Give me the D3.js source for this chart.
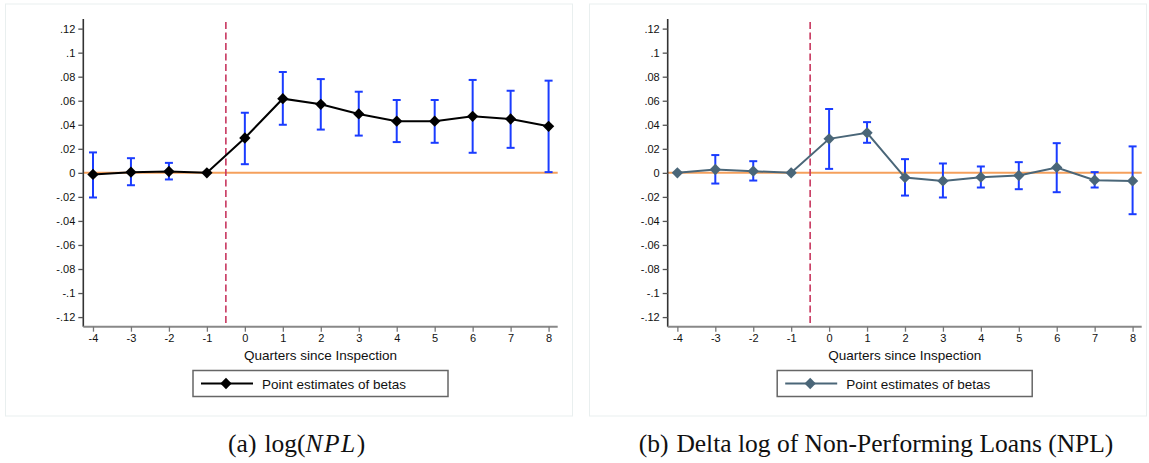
<!DOCTYPE html>
<html>
<head>
<meta charset="utf-8">
<script src="https://cdn.jsdelivr.net/npm/d3@7"></script>
<style>
  body { margin: 0; background: #fff; }
  svg { display: block; }
</style>
</head>
<body>
<svg id="chart" width="1149" height="463"></svg>
<script>
// quarters relative to the inspection
const quarters = [-4, -3, -2, -1, 0, 1, 2, 3, 4, 5, 6, 7, 8];
const yTicks = [0.12, 0.1, 0.08, 0.06, 0.04, 0.02, 0, -0.02, -0.04, -0.06, -0.08, -0.1, -0.12];

// panel (a) log(NPL)
const betaA = [-0.0013, 0.0006, 0.0011, 0, 0.029, 0.0617, 0.057, 0.049, 0.043, 0.043, 0.047, 0.0448, 0.0387];
const hiA   = [0.017, 0.0122, 0.0083, 0, 0.050, 0.0839, 0.078, 0.0675, 0.0606, 0.0606, 0.0773, 0.0683, 0.0767];
const loA   = [-0.0205, -0.0103, -0.0055, 0, 0.0072, 0.040, 0.036, 0.031, 0.0256, 0.025, 0.0167, 0.0208, 0.0006];

// panel (b) delta log NPL
const betaB = [0, 0.0028, 0.0014, 0, 0.0283, 0.0333, -0.0039, -0.0067, -0.0036, -0.0022, 0.0045, -0.0061, -0.0067];
const hiB   = [0, 0.0148, 0.0097, 0, 0.0531, 0.0422, 0.0114, 0.0078, 0.0053, 0.0089, 0.0247, 0.0006, 0.022];
const loB   = [0, -0.0089, -0.0064, 0, 0.0033, 0.025, -0.0189, -0.0205, -0.0122, -0.0136, -0.0161, -0.0122, -0.0344];

const legendLabel = "Point estimates of betas";
const xTitle = "Quarters since Inspection";

const svg = d3.select("#chart");

// Stata style: ".12", "-.02", plain hyphen
const fmt = v => {
    if (v === 0) return "0";
    const s = Math.abs(v).toFixed(2).replace(/0+$/, "").replace(/^0/, "");
    return (v < 0 ? "-" : "") + s;
};

function drawPanel(opts) {
    const { frameX, frameW, plotL, plotR, beta, hi, lo, color } = opts;
    const plotT = 19, plotB = 326.7;

    svg.append("rect")
        .attr("x", frameX).attr("y", 4)
        .attr("width", frameW).attr("height", 412)
        .attr("fill", "#fff")
        .attr("stroke", "#e9efef")
        .attr("stroke-width", 1);

    const x = d3.scaleLinear().domain([-4.255, 8.24]).range([plotL, plotR]);
    const y = d3.scaleLinear().domain([-0.128, 0.128]).range([plotB, plotT]);

    const g = svg.append("g");

    // zero reference line
    g.append("line")
        .attr("x1", plotL).attr("x2", plotR)
        .attr("y1", y(0)).attr("y2", y(0))
        .attr("stroke", "#f5a05c").attr("stroke-width", 2);

    // inspection line
    g.append("line")
        .attr("x1", x(-0.5)).attr("x2", x(-0.5))
        .attr("y1", 22).attr("y2", plotB)
        .attr("stroke", "#c8375f").attr("stroke-width", 1.6)
        .attr("stroke-dasharray", "7,3.5");

    // y axis
    const yAxis = d3.axisLeft(y).tickValues(yTicks).tickFormat(fmt).tickSize(5).tickPadding(3);
    const ya = g.append("g").attr("transform", `translate(${plotL},0)`).call(yAxis);
    ya.select(".domain").attr("stroke", "#333").attr("stroke-width", 1.6).attr("d", `M0,${plotT}V${plotB}`);
    ya.selectAll(".tick line").attr("stroke", "#555").attr("stroke-width", 1.3);
    ya.selectAll("text").attr("font-family", "Liberation Sans, Arial, sans-serif").attr("font-size", 11).attr("fill", "#111");

    // x axis
    const xAxis = d3.axisBottom(x).tickValues(quarters).tickFormat(d => String(d)).tickSize(5).tickPadding(3);
    const xa = g.append("g").attr("transform", `translate(0,${plotB})`).call(xAxis);
    xa.select(".domain").attr("stroke", "#888").attr("stroke-width", 2).attr("d", `M${plotL},0H${plotR}`);
    xa.selectAll(".tick line").attr("stroke", "#777").attr("stroke-width", 1.3);
    xa.selectAll("text").attr("font-family", "Liberation Sans, Arial, sans-serif").attr("font-size", 11).attr("fill", "#111");

    const cx = (plotL + plotR) / 2;
    g.append("text")
        .attr("x", cx).attr("y", 360)
        .attr("text-anchor", "middle")
        .attr("font-family", "Liberation Sans, Arial, sans-serif")
        .attr("font-size", 13.5).attr("fill", "#111")
        .text(xTitle);

    // error bars
    const bars = g.append("g").attr("stroke", "#1a3cff").attr("stroke-width", 2);
    quarters.forEach((q, i) => {
        if (hi[i] === lo[i]) return;
        const px = x(q);
        bars.append("line").attr("x1", px).attr("x2", px).attr("y1", y(hi[i])).attr("y2", y(lo[i]));
        bars.append("line").attr("x1", px - 4).attr("x2", px + 4).attr("y1", y(hi[i])).attr("y2", y(hi[i]));
        bars.append("line").attr("x1", px - 4).attr("x2", px + 4).attr("y1", y(lo[i])).attr("y2", y(lo[i]));
    });

    // estimate line and markers
    const line = d3.line().x((d, i) => x(quarters[i])).y(d => y(d));
    g.append("path").datum(beta)
        .attr("d", line)
        .attr("fill", "none").attr("stroke", color).attr("stroke-width", 2);

    const diamond = d3.symbol().type(d3.symbolSquare).size(64);
    g.selectAll(null).data(beta).enter().append("path")
        .attr("d", diamond)
        .attr("transform", (d, i) => `translate(${x(quarters[i])},${y(d)}) rotate(45)`)
        .attr("fill", color);

    // legend
    const lw = 255, lh = 26, lx = cx - lw / 2, ly = 370.5;
    const lg = g.append("g");
    lg.append("rect")
        .attr("x", lx).attr("y", ly).attr("width", lw).attr("height", lh)
        .attr("fill", "#fff").attr("stroke", "#666").attr("stroke-width", 1.5);
    lg.append("line")
        .attr("x1", lx + 8).attr("x2", lx + 60)
        .attr("y1", ly + lh / 2).attr("y2", ly + lh / 2)
        .attr("stroke", color).attr("stroke-width", 2);
    lg.append("path")
        .attr("d", diamond)
        .attr("transform", `translate(${lx + 33},${ly + lh / 2}) rotate(45)`)
        .attr("fill", color);
    lg.append("text")
        .attr("x", lx + 69).attr("y", ly + lh / 2 + 5)
        .attr("font-family", "Liberation Sans, Arial, sans-serif")
        .attr("font-size", 13.5).attr("fill", "#111")
        .text(legendLabel);

    return cx;
}

drawPanel({ frameX: 5.5, frameW: 567, plotL: 83.3, plotR: 557.7, beta: betaA, hi: hiA, lo: loA, color: "#000" });
drawPanel({ frameX: 589.5, frameW: 557, plotL: 667.7, plotR: 1141.7, beta: betaB, hi: hiB, lo: loB, color: "#4a6678" });

// captions
const cap = svg.append("g")
    .attr("font-family", "'Liberation Serif', 'Times New Roman', serif")
    .attr("font-size", 25.5).attr("fill", "#111");

const capA = cap.append("text").attr("x", 296.7).attr("y", 452).attr("text-anchor", "middle");
capA.append("tspan").text("(a)");
capA.append("tspan").attr("dx", 8).text("log(");
capA.append("tspan").attr("font-style", "italic").attr("letter-spacing", 1.5).text("NPL");
capA.append("tspan").text(")");

const capB = cap.append("text").attr("x", 876).attr("y", 452).attr("text-anchor", "middle");
capB.append("tspan").text("(b)");
capB.append("tspan").attr("dx", 8).text("Delta log of Non-Performing Loans (NPL)");
</script>
</body>
</html>
